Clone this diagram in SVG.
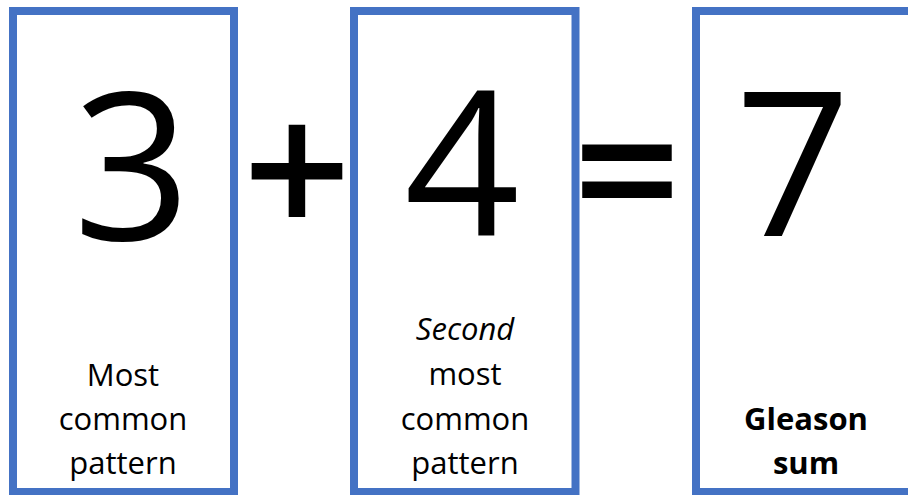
<svg xmlns="http://www.w3.org/2000/svg" width="908" height="495" viewBox="0 0 908 495">
<style>
.box{fill:none;stroke:#4472C4;stroke-width:8}
.big{font-family:"Open Sans","Liberation Sans",sans-serif;font-size:202px;fill:#000;text-anchor:middle}
.op{font-family:"Open Sans","Liberation Sans",sans-serif;font-weight:600;font-size:190px;fill:#000;text-anchor:middle}
.lbl{font-family:"Open Sans","Liberation Sans",sans-serif;font-size:31px;fill:#000;text-anchor:middle}
</style>
<rect width="908" height="495" fill="#fff"/>
<g id="box-first">
<rect class="box" x="13" y="11" width="221" height="481"/>
<text class="big" x="132" y="240" style="font-size:206px">3</text>
<text class="lbl" x="123" y="386">Most</text>
<text class="lbl" x="123" y="430">common</text>
<text class="lbl" x="123" y="474">pattern</text>
</g>
<g id="plus">
<text class="op" x="297" y="238">+</text>
</g>
<g id="box-second">
<rect class="box" x="354" y="11" width="221.5" height="481"/>
<text class="big" x="462" y="235">4</text>
<text class="lbl" x="465" y="340" font-style="italic">Second</text>
<text class="lbl" x="465" y="385">most</text>
<text class="lbl" x="465" y="430">common</text>
<text class="lbl" x="465" y="474">pattern</text>
</g>
<g id="equals">
<text class="op" x="627" y="238">=</text>
</g>
<g id="box-sum">
<rect class="box" x="696" y="11" width="221" height="481"/>
<text class="big" x="793" y="236">7</text>
<text class="lbl" x="806" y="430" font-weight="bold">Gleason</text>
<text class="lbl" x="806" y="474" font-weight="bold">sum</text>
</g>
<g id="connectors"></g>
</svg>
